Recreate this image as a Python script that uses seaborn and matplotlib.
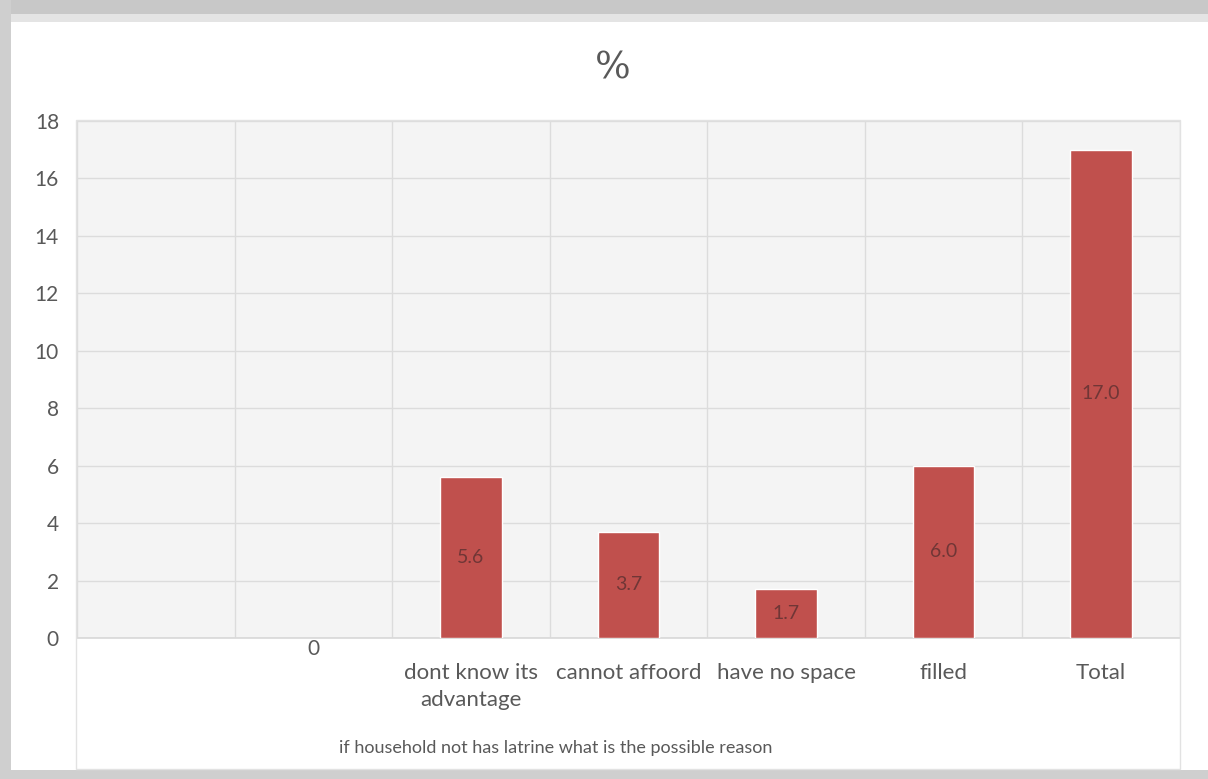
import numpy as np
import pandas as pd
import seaborn as sns
import matplotlib.pyplot as plt
import matplotlib.transforms as mtransforms
from matplotlib.patches import Rectangle

# Reasons given by households without a latrine (% of households)
reasons = ["", "0", "dont know its\nadvantage", "cannot affoord",
           "have no space", "filled", "Total"]
percent = [np.nan, np.nan, 5.6, 3.7, 1.7, 6.0, 17.0]
y_ticks = [0, 2, 4, 6, 8, 10, 12, 14, 16, 18]

title = "%"
x_title = "if household not has latrine what is the possible reason"

bar_color = "#c0504d"
text_gray = "#595959"

df = pd.DataFrame({"reason": reasons, "pct": percent})

sns.set_theme(style="white")
plt.rcParams["font.family"] = ["Lato", "DejaVu Sans"]

fig = plt.figure(figsize=(12.08, 7.79), dpi=100)
fig.patch.set_facecolor("white")

# frame shadow around the chart
fig.patches.append(Rectangle((0, 0.982), 1, 0.018, transform=fig.transFigure,
                             facecolor="#c8c8c8", edgecolor="none", zorder=0))
fig.patches.append(Rectangle((0, 0.972), 1, 0.010, transform=fig.transFigure,
                             facecolor="#e4e4e4", edgecolor="none", zorder=0))
fig.patches.append(Rectangle((0, 0), 0.009, 1, transform=fig.transFigure,
                             facecolor="#cfcfcf", edgecolor="none", zorder=0))
fig.patches.append(Rectangle((0, 0), 1, 0.011, transform=fig.transFigure,
                             facecolor="#cfcfcf", edgecolor="none", zorder=0))

# thin box enclosing plot and category labels
fig.patches.append(Rectangle((0.0625, 0.013), 0.9145, 0.833, transform=fig.transFigure,
                             facecolor="none", edgecolor="#e2e2e2", lw=1.0, zorder=1))

ax = fig.add_axes([0.0637, 0.181, 0.9131, 0.6637])
ax.set_facecolor("#f4f4f4")

sns.barplot(data=df, x="reason", y="pct", order=reasons, color=bar_color,
            width=0.39, saturation=1, ax=ax, zorder=3)

for i, v in enumerate(percent):
    if not np.isnan(v):
        ax.text(i, v / 2, f"{v:.1f}", ha="center", va="center",
                fontsize=14, color="#703636", zorder=4)

ax.set_ylim(0, 18)
ax.set_xlim(-0.5, len(reasons) - 0.5)
ax.set_yticks(y_ticks)
ax.set_xticks(np.arange(len(reasons) + 1) - 0.5, minor=True)
ax.grid(axis="y", which="major", color="#dcdcdc", lw=1.0, zorder=0)
ax.grid(axis="x", which="minor", color="#dcdcdc", lw=1.0, zorder=0)
ax.tick_params(axis="both", which="both", length=0)
ax.tick_params(axis="y", labelsize=15, labelcolor=text_gray, pad=13)
ax.tick_params(axis="x", labelsize=16, labelcolor=text_gray, pad=18)
for lab in ax.get_xticklabels():
    lab.set_linespacing(1.45)
    if lab.get_text() == "0":
        # numeric category label sits right at the baseline
        lab.set_fontsize(15)
        lab.set_transform(lab.get_transform() +
                          mtransforms.ScaledTranslation(0, 0.24, fig.dpi_scale_trans))
ax.set_xlabel("")
ax.set_ylabel("")
for s in ax.spines.values():
    s.set_visible(False)
ax.spines["bottom"].set_visible(True)
ax.spines["bottom"].set_color("#d9d9d9")

fig.text(0.507, 0.912, title, ha="center", va="center", fontsize=27,
         color=text_gray, family=["DejaVu Serif"])
fig.text(0.460, 0.040, x_title, ha="center", va="center", fontsize=13,
         color=text_gray)

fig.savefig("out.png", dpi=100)
